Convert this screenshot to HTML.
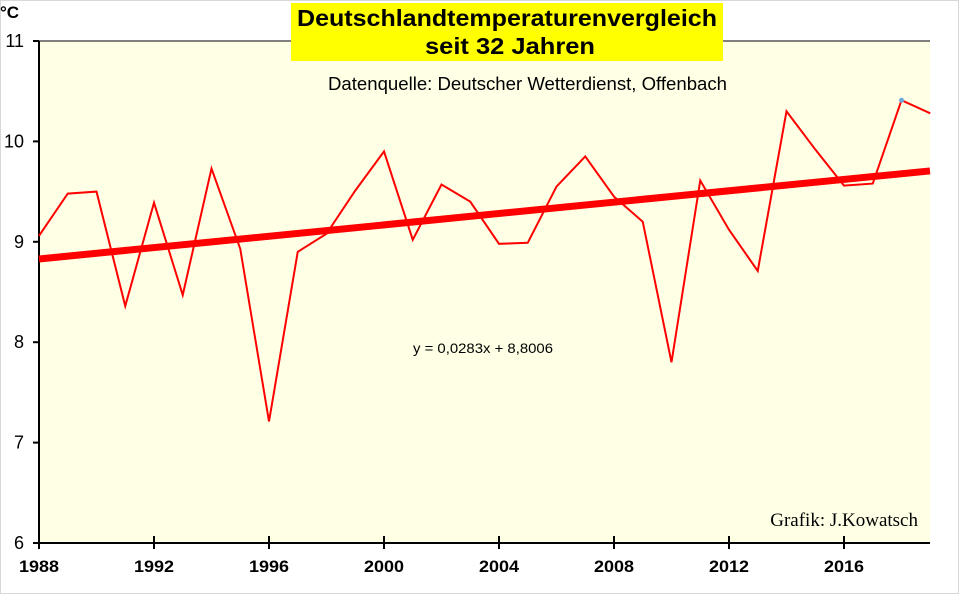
<!DOCTYPE html>
<html><head><meta charset="utf-8"><style>
body{margin:0;background:#fff}
svg{display:block;font-family:"Liberation Sans",sans-serif}
</style></head><body>
<svg width="959" height="594">
<rect x="0.5" y="0.5" width="958" height="593" fill="#fff" stroke="#d8d8d8"/>
<rect x="39" y="41" width="891" height="502" fill="#ffffe6"/>
<g id="axes"></g>
<g id="series"></g>
<rect x="291" y="3" width="432" height="58" fill="#ffff00"/>
<text x="297" y="26" font-size="23" font-weight="bold" textLength="420" lengthAdjust="spacingAndGlyphs">Deutschlandtemperaturenvergleich</text>
<text x="425" y="54" font-size="23" font-weight="bold" textLength="170" lengthAdjust="spacingAndGlyphs">seit 32 Jahren</text>
<text x="328" y="90" font-size="18" textLength="399" lengthAdjust="spacingAndGlyphs">Datenquelle: Deutscher Wetterdienst, Offenbach</text>
<text x="413" y="353" font-size="14" textLength="140" lengthAdjust="spacingAndGlyphs">y = 0,0283x  + 8,8006</text>
<text x="918" y="526" text-anchor="end" font-size="19" font-family="Liberation Serif,serif">Grafik: J.Kowatsch</text>
<text x="0" y="18" font-size="17" font-weight="bold">°C</text>
</svg>
<script>
const years=[1988,1989,1990,1991,1992,1993,1994,1995,1996,1997,1998,1999,2000,2001,2002,2003,2004,2005,2006,2007,2008,2009,2010,2011,2012,2013,2014,2015,2016,2017,2018,2019];
const temps=[9.06,9.48,9.50,8.36,9.39,8.47,9.73,8.93,7.21,8.90,9.08,9.51,9.90,9.02,9.57,9.40,8.98,8.99,9.55,9.85,9.45,9.20,7.80,9.61,9.12,8.71,10.30,9.92,9.56,9.58,10.41,10.28];
const yTicks=[6,7,8,9,10,11];
const xTickYears=[1988,1992,1996,2000,2004,2008,2012,2016];
const trendSlope=0.0283, trendIntercept=8.8006;
const NS='http://www.w3.org/2000/svg';
const X=y=>39+(y-1988)*28.75;
const Y=v=>543-(v-6)*100.4;
const axes=document.getElementById('axes'),ser=document.getElementById('series');
function mk(tag,a,p){const e=document.createElementNS(NS,tag);for(const k in a)e.setAttribute(k,a[k]);p.appendChild(e);return e;}
let l=mk('line',{x1:39,y1:41,x2:39,y2:544,stroke:'#000','stroke-width':2},axes);


l=mk('line',{x1:33,y1:543,x2:930,y2:543,stroke:'#000','stroke-width':2},axes);


l=mk('line',{x1:39,y1:41,x2:930,y2:41,stroke:'#000','stroke-width':1},axes);


yTicks.forEach(v=>{
 const t=mk('line',{x1:33,y1:Y(v),x2:39,y2:Y(v),stroke:'#000','stroke-width':2},axes);
 
 
 const tx=mk('text',{x:24,y:Y(v)+6,'text-anchor':'end','font-size':18},axes);
 tx.textContent=v;
 
 
});
xTickYears.forEach(yr=>{
 const t=mk('line',{x1:X(yr),y1:536,x2:X(yr),y2:549,stroke:'#000','stroke-width':2},axes);
 
 
 const tx=mk('text',{x:X(yr)-20,y:572,'font-size':17,'font-weight':'bold',textLength:40,lengthAdjust:'spacingAndGlyphs'},axes);
 tx.textContent=yr;
 
 
});
const t0=trendIntercept+trendSlope*1, x1v=1988+(930-39)/28.75, t1=trendIntercept+trendSlope*(x1v-1988+1);
const tr=mk('line',{x1:39,y1:Y(t0),x2:930,y2:Y(t1),stroke:'#ff0000','stroke-width':7},ser);


const pl=mk('polyline',{points:years.map((y,i)=>X(y)+','+Y(temps[i])).join(' '),fill:'none',stroke:'#ff0000','stroke-width':2},ser);


const m=mk('circle',{cx:X(2018),cy:Y(temps[30]),r:2.5,fill:'#6fa8dc'},ser);


</script>
</body></html>
